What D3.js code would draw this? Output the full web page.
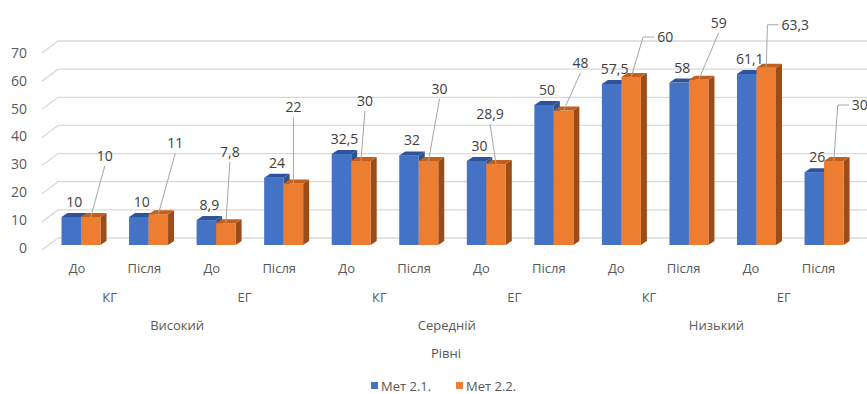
<!DOCTYPE html>
<html>
<head>
<meta charset="utf-8">
<script src="https://cdn.jsdelivr.net/npm/d3@7/dist/d3.min.js"></script>
<style>
  html, body { margin: 0; padding: 0; background: #fff; }
  svg { display: block; font-family: "Open Sans", "DejaVu Sans", sans-serif; }
</style>
</head>
<body>
<svg id="chart" width="867" height="394"></svg>
<script>
// Data
const stages = ["До", "Після", "До", "Після", "До", "Після", "До", "Після", "До", "Після", "До", "Після"];
const groups = ["КГ", "ЕГ", "КГ", "ЕГ", "КГ", "ЕГ"];
const levels = ["Високий", "Середній", "Низький"];
const met21 = [10, 10, 8.9, 24, 32.5, 32, 30, 50, 57.5, 58, 61.1, 26];
const met22 = [10, 11, 7.8, 22, 30, 30, 28.9, 48, 60, 59, 63.3, 30];
const seriesNames = ["Мет 2.1.", "Мет 2.2."];
const yTicks = [0, 10, 20, 30, 40, 50, 60, 70];
const fmt = v => String(v).replace(".", ",");

// Placement of the Мет 2.2. callouts: [dx from bar centre, dy from bar top, elbow leader]
const calloutLayout = [
  [14, -61, false], [17, -71, false], [4, -71, false], [0, -76, false],
  [4, -60, false], [11, -72, false], [-6, -50, false], [17, -48, false],
  [34, -40, true], [20, -57, false], [29, -43, true], [26, -56, true]
];

const svg = d3.select("#chart");
const W = 867;

// Scales: back wall, bar plane and front edge of the 3D floor
const x = d3.scaleLinear().domain([0, stages.length - 1]).range([81, 81 + 67.55 * 11]);
const xLab = d3.scaleLinear().domain([0, stages.length - 1]).range([77, 818.5]);
const yBack = d3.scaleLinear().domain([0, 70]).range([238, 41]);
const yBar = d3.scaleLinear().domain([0, 70]).range([245, 49]);
const yFront = d3.scaleLinear().domain([0, 70]).range([250, 53]);
const yLabel = d3.scaleLinear().domain([0, 70]).range([248, 53]);

const barW = 19.5, depthX = 6, depthY = -4;
const colors = {
  blue: { front: "#4472C4", top: "#2F539B", side: "#30528F" },
  orange: { front: "#ED7D31", top: "#C4601C", side: "#9C4C17" }
};

// Gridlines (perspective floor edge + back wall)
const grid = svg.append("g");
yTicks.forEach(t => {
  grid.append("polyline")
    .attr("points", `42,${yFront(t)} 58,${yBack(t)} ${W},${yBack(t)}`)
    .attr("fill", "none").attr("stroke", "#d9d9d9").attr("stroke-width", 1.3);
});

// Value axis labels
svg.append("g").selectAll("text").data(yTicks).join("text")
  .attr("x", 27).attr("y", d => yLabel(d)).attr("dy", "0.35em")
  .attr("text-anchor", "end").attr("font-size", 14).attr("fill", "#595959")
  .text(d => d);

// 3D column drawing
function drawBar(g, x0, v, c) {
  const x1 = x0 + barW, top = yBar(v), base = yBar(0);
  g.append("polygon")
    .attr("points", `${x1},${top} ${x1 + depthX},${top + depthY} ${x1 + depthX},${base + depthY} ${x1},${base}`)
    .attr("fill", c.side);
  g.append("rect").attr("x", x0).attr("y", top).attr("width", barW).attr("height", base - top)
    .attr("fill", c.front);
  g.append("polygon")
    .attr("points", `${x0},${top} ${x0 + depthX},${top + depthY} ${x1 + depthX},${top + depthY} ${x1},${top}`)
    .attr("fill", c.top);
}

const bars = svg.append("g");
stages.forEach((s, i) => {
  const c = x(i);
  drawBar(bars, c - barW, met21[i], colors.blue);
  drawBar(bars, c, met22[i], colors.orange);
});

// Мет 2.1. value labels
svg.append("g").selectAll("text").data(met21).join("text")
  .attr("x", (d, i) => x(i) - barW / 2 + 3)
  .attr("y", d => yBar(d) - 15).attr("dy", "0.35em")
  .attr("text-anchor", "middle").attr("font-size", 14).attr("fill", "#404040")
  .text(d => fmt(d));

// Мет 2.2. callouts with leader lines
const callouts = svg.append("g");
met22.forEach((v, i) => {
  const ox = x(i) + barW / 2, top = yBar(v);
  const [dx, dy, elbow] = calloutLayout[i];
  const lx = ox + dx, ly = top + dy;
  const t = callouts.append("text")
    .attr("x", lx).attr("y", ly).attr("dy", "0.35em")
    .attr("text-anchor", "middle").attr("font-size", 14).attr("fill", "#404040")
    .text(fmt(v));
  const tw = t.node().getComputedTextLength();
  let pts;
  if (elbow) {
    const left = lx - tw / 2;
    pts = `${ox},${top} ${left - 14},${ly} ${left - 3},${ly}`;
  } else {
    pts = `${ox},${top} ${lx},${ly + 10}`;
  }
  callouts.insert("polyline", "text")
    .attr("points", pts).attr("fill", "none")
    .attr("stroke", "#a6a6a6").attr("stroke-width", 1);
});

// Category axis: stage / group / level / title
const axisText = svg.append("g").attr("font-size", 13).attr("fill", "#595959").attr("text-anchor", "middle");
axisText.selectAll(".stage").data(stages).join("text").attr("class", "stage")
  .attr("x", (d, i) => xLab(i)).attr("y", 268).attr("dy", "0.35em").text(d => d);
axisText.selectAll(".grp").data(groups).join("text").attr("class", "grp")
  .attr("x", (d, i) => (xLab(2 * i) + xLab(2 * i + 1)) / 2 - 1).attr("y", 297).attr("dy", "0.35em").text(d => d);
axisText.selectAll(".lvl").data(levels).join("text").attr("class", "lvl")
  .attr("x", (d, i) => (xLab(4 * i) + xLab(4 * i + 3)) / 2 - 1).attr("y", 325).attr("dy", "0.35em").text(d => d);
axisText.append("text").attr("x", 446).attr("y", 353).attr("dy", "0.35em").text("Рівні");

// Legend
const legend = svg.append("g").attr("font-size", 13).attr("fill", "#595959");
const legendX = [371, 456];
seriesNames.forEach((name, i) => {
  legend.append("rect").attr("x", legendX[i]).attr("y", 382).attr("width", 7).attr("height", 7)
    .attr("fill", i === 0 ? colors.blue.front : colors.orange.front);
  legend.append("text").attr("x", legendX[i] + 10).attr("y", 386).attr("dy", "0.35em").text(name);
});
</script>
</body>
</html>
